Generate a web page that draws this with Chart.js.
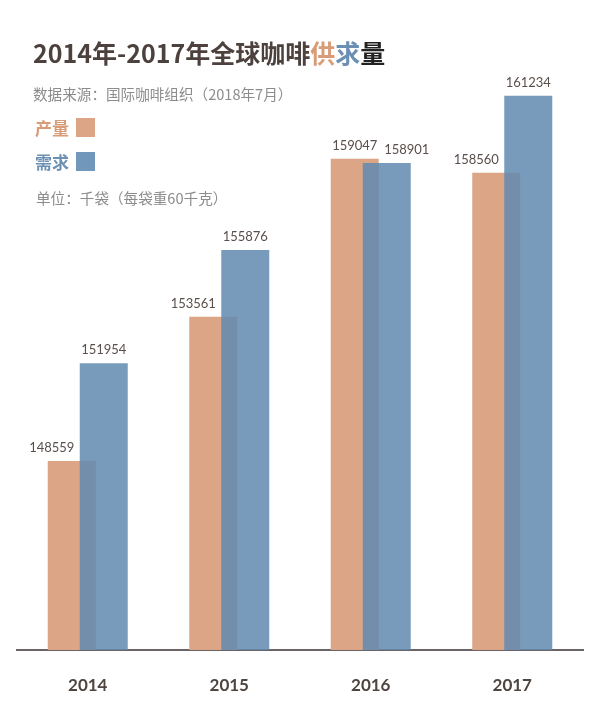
<!DOCTYPE html>
<html>
<head>
<meta charset="utf-8">
<script src="https://cdn.jsdelivr.net/npm/chart.js@4.4.1/dist/chart.umd.min.js"></script>
<style>
  html, body { margin: 0; padding: 0; background: #fff; }
  #wrap { position: relative; width: 600px; height: 702px; }
  #wrap canvas { position: absolute; left: 0; top: 0; }
  .txt { position: absolute; white-space: nowrap; font-family: "Noto Sans CJK SC", "Noto Sans", sans-serif; }
  #titulo { left: 33px; top: 40px; font-size: 25px; line-height: 25px; font-weight: 700; color: #4d413d; }
  #fuente { left: 33px; top: 86px; font-size: 14.6px; line-height: 16px; color: #8c8c8c; }
  #unidad { left: 36px; top: 190px; font-size: 14.6px; line-height: 16px; color: #8c8c8c; }
  .leyenda { left: 35px; font-size: 17px; line-height: 19px; font-weight: 700; }
  .leyenda i { display: inline-block; width: 19px; height: 19px; margin-left: 7px; vertical-align: top; }
</style>
</head>
<body>
<div id="wrap">
  <canvas id="graficaCafe" width="600" height="702"></canvas>
  <div class="txt" id="titulo">2014年-2017年全球咖啡<span style="color:#d99c78">供</span><span style="color:#6b90b3">求</span><span style="color:#222">量</span></div>
  <div class="txt" id="fuente">数据来源：国际咖啡组织（2018年7月）</div>
  <div class="txt leyenda" style="top:118px;color:#d99c78">产量<i style="background:#dca585"></i></div>
  <div class="txt leyenda" style="top:152px;color:#6b90b3">需求<i style="background:#7197ba"></i></div>
  <div class="txt" id="unidad">单位：千袋（每袋重60千克）</div>
</div>
<script>
// === Datos (千袋) ===
const años = ["2014", "2015", "2016", "2017"];
const produccion = [148559, 153561, 159047, 158560]; // 产量
const demanda = [151954, 155876, 158901, 161234];    // 需求

// Chart.js dibuja el primer dataset encima; aquí queremos el azul encima
const ordenDibujo = {
    id: "ordenDibujo",
    beforeDatasetsDraw(chart) {
        chart.getSortedVisibleDatasetMetas().forEach(meta => chart._drawDataset(meta));
        return false;
    }
};

// etiquetas con el valor encima de cada barra;
// la de la barra más baja se aparta un poco para no chocar con la vecina
const etiquetas = {
    id: "etiquetas",
    afterDraw(chart) {
        const ctx = chart.ctx;
        const sets = chart.data.datasets;
        ctx.save();
        ctx.font = "13px Lato, 'Open Sans', sans-serif";
        ctx.fillStyle = "#5a4f4b";
        ctx.textAlign = "center";
        ctx.textBaseline = "middle";
        sets.forEach((ds, i) => {
            const otro = sets[1 - i].data;
            const lado = i === 0 ? -1 : 1;
            chart.getDatasetMeta(i).data.forEach((bar, j) => {
                const dx = ds.data[j] < otro[j] ? lado * 20 : 0;
                ctx.fillText(String(ds.data[j]), bar.x + dx, bar.y - 13);
            });
        });
        ctx.restore();
    }
};

new Chart(document.getElementById("graficaCafe"), {
    type: "bar",
    data: {
        labels: años,
        datasets: [
            {
                label: "产量",
                data: produccion,
                backgroundColor: "#dca585",
                categoryPercentage: 0.4523,
                barPercentage: 1.5
            },
            {
                label: "需求",
                data: demanda,
                backgroundColor: "rgba(96,137,176,0.85)",
                categoryPercentage: 0.4523,
                barPercentage: 1.5
            }
        ]
    },
    options: {
        responsive: false,
        animation: false,
        layout: { padding: { left: 17, right: 17, top: 60, bottom: 0 } },
        plugins: {
            legend: { display: false },
            title: { display: false },
            tooltip: { enabled: false }
        },
        scales: {
            x: {
                grid: { display: false, drawTicks: false },
                border: { display: true, color: "#6b6466", width: 2 },
                ticks: {
                    padding: 25,
                    color: "#4e4440",
                    font: { family: "Lato, 'Open Sans', sans-serif", size: 17, weight: "bold" }
                },
                afterFit(scale) { scale.height = 52; }
            },
            y: {
                display: false,
                min: 142000,
                max: 162473
            }
        }
    },
    plugins: [ordenDibujo, etiquetas]
});
</script>
</body>
</html>
